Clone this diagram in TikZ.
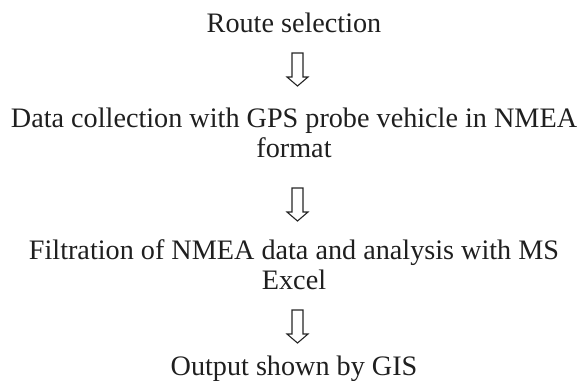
\documentclass[tikz,border=0pt]{standalone}
\usepackage{fontspec}
\setmainfont{Liberation Serif}
\begin{document}
\begin{tikzpicture}[x=1bp,y=1bp,
  lbl/.style={anchor=base,inner sep=0pt,font=\fontsize{28.3}{30}\selectfont,text=black!88,align=center},
  hollowarrow/.style={draw=black!85,line width=1.1bp,fill=white,line join=miter}]
\useasboundingbox (0,0) rectangle (580,380);
\node[lbl] (t1) at (294,348) {Route selection};
\node[lbl] (t2) at (294,223) {Data collection with GPS probe vehicle in NMEA\\format};
\node[lbl] (t3) at (294,91) {Filtration of NMEA data and analysis with MS\\Excel};
\node[lbl] (t4) at (294,5) {Output shown by GIS};
\newcommand\myarrow[2]{%
  \coordinate (#1) at #2;
  \draw[hollowarrow] ([shift={(-5.5,0)}]#1) -- ([shift={(5.5,0)}]#1) -- ([shift={(5.5,-24)}]#1)
    -- ([shift={(10.5,-24)}]#1) -- ([shift={(0,-33)}]#1) -- ([shift={(-10.5,-24)}]#1)
    -- ([shift={(-5.5,-24)}]#1) -- cycle;}
\myarrow{a1}{(297.5,327)}
\myarrow{a2}{(297.5,192)}
\myarrow{a3}{(297.5,70)}
\end{tikzpicture}
\end{document}
